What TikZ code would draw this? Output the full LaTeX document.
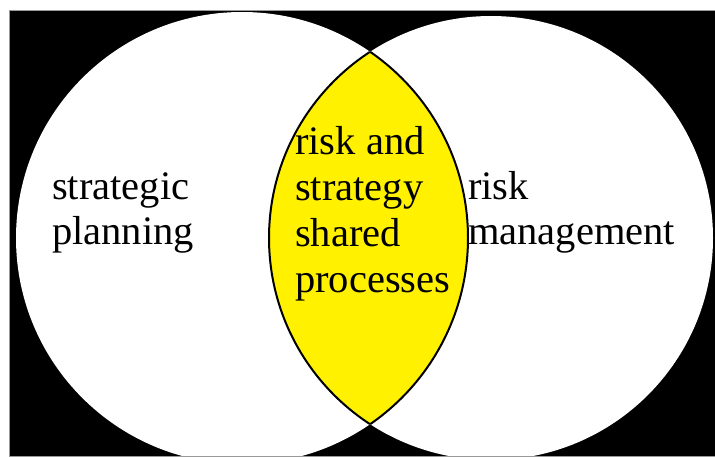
\documentclass[tikz,border=0pt]{standalone}
\usepackage{fontspec}
\setmainfont{Liberation Serif}
\definecolor{lensyellow}{RGB}{255,241,0}
\begin{document}
\begin{tikzpicture}[x=1pt,y=-1pt,
  label text/.style={anchor=base west, inner sep=0pt, align=left,
    font=\fontsize{40.5}{45.7}\selectfont, text=black}]
  \useasboundingbox (0,0) rectangle (715,457);
  % black panel
  \fill[white] (0,0) rectangle (715,457);
  \filldraw[fill=black, draw=black!40, line width=0.8pt] (9.5,10) rectangle (716,456);
  % two sets
  \begin{scope}
    \clip (10,10.5) rectangle (715,455.5);
    \fill[white] (242,238) circle[radius=226];
    \fill[white] (491,238) circle[radius=222];
    % shared region
    \begin{scope}
      \clip (242,238) circle[radius=226];
      \fill[lensyellow] (491,238) circle[radius=222];
      \draw[black, line width=2pt] (491,238) circle[radius=222];
    \end{scope}
    \begin{scope}
      \clip (491,238) circle[radius=222];
      \draw[black, line width=2pt] (242,238) circle[radius=226];
    \end{scope}
  \end{scope}
  % labels (anchored at the baseline of the last line)
  \node[label text] (plan) at (52,245) {strategic\\planning};
  \node[label text] (shared) at (295,292) {risk and\\strategy\\shared\\processes};
  \node[label text] (risk) at (468,245) {risk\\management};
\end{tikzpicture}
\end{document}
